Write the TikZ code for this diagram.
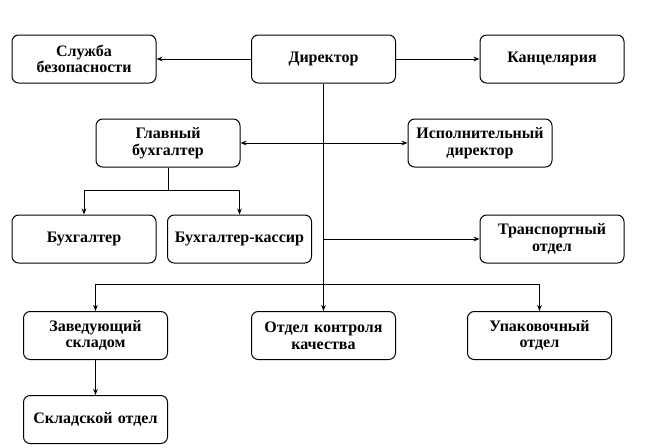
\documentclass[tikz,border=0pt]{standalone}
\usepackage{fontspec}
\setmainfont{Liberation Serif}[BoldFont={Liberation Serif Bold}]
\newfontfamily\rusf{Liberation Serif}[BoldFont={Liberation Serif Bold}]
\usetikzlibrary{arrows.meta}
\begin{document}
\begin{tikzpicture}[x=0.75pt,y=-0.75pt,
  box/.style={draw, line width=0.75pt, rounded corners=5pt, minimum width=108pt, minimum height=36pt,
    text width=100pt, align=center, inner sep=0pt, font=\rusf\fontsize{12pt}{12.5pt}\selectfont\bfseries},
  con/.style={line width=0.75pt},
  arr/.style={con, -{Stealth[length=4.5pt,width=3.5pt]}}]
\useasboundingbox (0,0) rectangle (648,447);
\node[box] (sb) at (84,59) {Служба\\безопасности};
\node[box] (dir) at (323.5,59) {Директор};
\node[box] (kanc) at (552,59) {Канцелярия};
\node[box] (gb) at (168,143) {Главный\\бухгалтер};
\node[box] (isp) at (480,143) {Исполнительный\\директор};
\node[box] (buh) at (84,239) {Бухгалтер};
\node[box] (kas) at (239.5,239) {Бухгалтер-кассир};
\node[box] (tr) at (552,239) {Транспортный\\отдел};
\node[box] (zav) at (95.5,335.5) {Заведующий\\складом};
\node[box] (okk) at (323.5,335.5) {Отдел контроля\\качества};
\node[box] (upk) at (539.5,335.5) {Упаковочный\\отдел};
\node[box] (skl) at (95.5,419.5) {Складской отдел};
\draw[arr] (dir.west) -- (sb.east);
\draw[arr] (dir.east) -- (kanc.west);
\draw[arr] (dir.south) -- (okk.north);
\coordinate (t1) at (dir.south |- gb.east);
\draw[arr] (t1) -- (gb.east);
\draw[arr] (t1) -- (isp.west);
\coordinate (jb) at (168,190);
\draw[con] (gb.south) -- (jb);
\draw[arr] (jb) -| (buh.north);
\draw[arr] (jb) -| (kas.north);
\coordinate (t2) at (dir.south |- tr.west);
\draw[arr] (t2) -- (tr.west);
\coordinate (t3) at (323.5,284);
\draw[arr] (t3) -| (zav.north);
\draw[arr] (t3) -| (upk.north);
\draw[arr] (zav.south) -- (skl.north);
\end{tikzpicture}
\end{document}
